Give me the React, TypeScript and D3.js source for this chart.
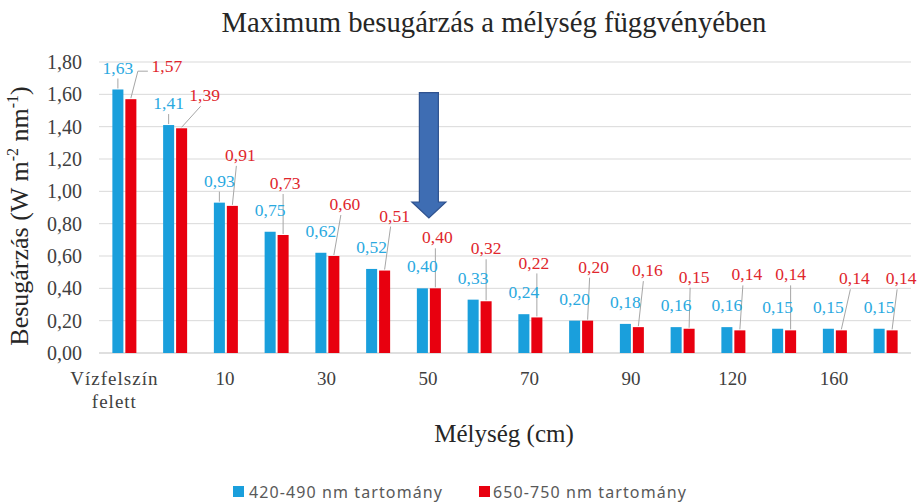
import React from 'react';
import * as d3 from 'd3';

// ---- data ----
const categories = ['Vízfelszín felett', '0', '10', '20', '30', '40', '50', '60', '70', '80', '90', '100', '120', '140', '160', '180'];
const blueValues = [1.63, 1.41, 0.93, 0.75, 0.62, 0.52, 0.40, 0.33, 0.24, 0.20, 0.18, 0.16, 0.16, 0.15, 0.15, 0.15];
const redValues = [1.57, 1.39, 0.91, 0.73, 0.60, 0.51, 0.40, 0.32, 0.22, 0.20, 0.16, 0.15, 0.14, 0.14, 0.14, 0.14];
const seriesNames = ['420-490 nm tartomány', '650-750 nm tartomány'];
const yTicks = [0, 0.2, 0.4, 0.6, 0.8, 1.0, 1.2, 1.4, 1.6, 1.8];

// ---- layout (label nudges, px) ----
const redLabelDx = [36, 23, 8, 2, 11, 10, 2, 0, -3, 6, 9, 5, 7, 0, 13, 9];
const redLabelDy = [-33, -33, -51, -52, -52, -55, -51, -53, -55, -54, -57, -52, -56, -56, -52, -52];

const W = 922, H = 503;
const M = { left: 99, right: 11, top: 62, bottom: 150 };
const BLUE = '#1a9fdc';
const RED = '#e8000f';
const BLUE_TXT = '#2aa9df';
const RED_TXT = '#e0262c';
const SERIF = '"Liberation Serif", "Times New Roman", serif';
const SANS = '"Noto Sans", "Open Sans", sans-serif';

const fmt = (v: number) => v.toFixed(2).replace('.', ',');

export default function App() {
  const x0 = d3.scaleBand<string>().domain(categories).range([M.left, W - M.right]).padding(0);
  const x1 = d3.scaleBand<string>().domain(['b', 'r']).range([-12, 12]).paddingInner(0.15);
  const y = d3.scaleLinear().domain([0, 1.8]).range([353, M.top]);

  const arrowCat = categories[6];
  const ax = (x0(arrowCat) as number) + x0.bandwidth() / 2;
  const aTop = y(1.61), aHead = y(0.934), aTip = y(0.835);
  const arrowPath = `M${ax - 9.5},${aTop} L${ax + 9.5},${aTop} L${ax + 9.5},${aHead} L${ax + 17},${aHead} L${ax},${aTip} L${ax - 17},${aHead} L${ax - 9.5},${aHead} Z`;

  return (
    <svg width={W} height={H} style={{ display: 'block', background: '#fff' }}>
      <style>{`body{margin:0}`}</style>
      <rect width={W} height={H} fill="#fff" />
      {/* title */}
      <text x={494} y={32} textAnchor="middle" fontFamily={SERIF} fontSize={28.7} fill="#262626">
        Maximum besugárzás a mélység függvényében
      </text>
      {/* gridlines */}
      {yTicks.map((t) => (
        <line key={t} x1={M.left} x2={W - M.right} y1={y(t)} y2={y(t)} stroke={t === 0 ? '#bfbfbf' : '#d9d9d9'} strokeWidth={1} />
      ))}
      {/* y tick labels */}
      {yTicks.map((t) => (
        <text key={'yt' + t} x={82} y={y(t)} dy="0.35em" textAnchor="end" fontFamily={SERIF} fontSize={20} fill="#404040">
          {fmt(t)}
        </text>
      ))}
      {/* y axis title */}
      <text transform={`translate(28,${216}) rotate(-90)`} textAnchor="middle" fontFamily={SERIF} fontSize={26} fill="#262626">
        Besugárzás (W m<tspan fontSize={16} dy={-10}>-2</tspan>
        <tspan dy={10}> nm</tspan>
        <tspan fontSize={16} dy={-10}>-1</tspan>
        <tspan dy={10}>)</tspan>
      </text>
      {/* bars */}
      {categories.map((c, i) => {
        const cx = (x0(c) as number) + x0.bandwidth() / 2;
        const bx = cx + (x1('b') as number);
        const rx = cx + (x1('r') as number);
        const bw = x1.bandwidth();
        return (
          <g key={c}>
            <rect x={bx} y={y(blueValues[i])} width={bw} height={y(0) - y(blueValues[i])} fill={BLUE} />
            <rect x={rx} y={y(redValues[i])} width={bw} height={y(0) - y(redValues[i])} fill={RED} />
          </g>
        );
      })}
      {/* data labels */}
      {categories.map((c, i) => {
        const cx = (x0(c) as number) + x0.bandwidth() / 2;
        const bw = x1.bandwidth();
        const bcx = cx + (x1('b') as number) + bw / 2;
        const rcx = cx + (x1('r') as number) + bw / 2;
        const bTop = y(blueValues[i]);
        const rTop = y(redValues[i]);
        const bLy = bTop - 22;
        const rLx = rcx + redLabelDx[i];
        const rLy = rTop + redLabelDy[i];
        let leader: string;
        if (rLx - rcx > 30) {
          const lx = rLx - 17;
          leader = `M${lx - 2},${rLy + 5} L${lx - 12},${rLy + 5} L${rcx},${rTop - 1}`;
        } else {
          const sx = rLx + Math.max(-4, Math.min(4, rcx - rLx));
          leader = `M${sx},${rLy + 11} L${rcx},${rTop - 1}`;
        }
        return (
          <g key={'l' + c}>
            {i < 3 && <line x1={bcx} x2={bcx} y1={bLy + 11} y2={bTop - 1} stroke="#a6a6a6" strokeWidth={1} />}
            <path d={leader} fill="none" stroke="#a6a6a6" strokeWidth={1} />
            <text x={bcx} y={bLy} dy="0.35em" textAnchor="middle" fontFamily={SERIF} fontSize={17.5} fill={BLUE_TXT}>
              {fmt(blueValues[i])}
            </text>
            <text x={rLx} y={rLy} dy="0.35em" textAnchor="middle" fontFamily={SERIF} fontSize={17.5} fill={RED_TXT}>
              {fmt(redValues[i])}
            </text>
          </g>
        );
      })}
      {/* x tick labels (every second category) */}
      {categories.map((c, i) => {
        if (i % 2 !== 0) return null;
        const cx = (x0(c) as number) + x0.bandwidth() / 2 - (i === 0 ? 0 : 1);
        const parts = c.split(' ');
        const tx = i === 0 ? cx - 10 : cx;
        return (
          <text key={'xt' + c} x={tx} y={385} textAnchor="middle" fontFamily={SERIF} fontSize={19} fill="#404040" letterSpacing={i === 0 ? 1 : 0}>
            {parts.map((p, k) => (
              <tspan key={k} x={tx} dy={k === 0 ? 0 : 23}>{p}</tspan>
            ))}
          </text>
        );
      })}
      {/* x axis title */}
      <text x={504} y={442} textAnchor="middle" fontFamily={SERIF} fontSize={25} fill="#262626">
        Mélység (cm)
      </text>
      {/* arrow annotation */}
      <path d={arrowPath} fill="#3e6db3" stroke="#2f528f" strokeWidth={1.2} />
      {/* legend */}
      <g>
        <rect x={233} y={486} width={11} height={11} fill={BLUE} />
        <text x={249} y={492} dy="0.35em" fontFamily={SANS} fontSize={16} letterSpacing={1.1} fill="#595959">{seriesNames[0]}</text>
        <rect x={479} y={486} width={11} height={11} fill={RED} />
        <text x={493} y={492} dy="0.35em" fontFamily={SANS} fontSize={16} letterSpacing={1.1} fill="#595959">{seriesNames[1]}</text>
      </g>
    </svg>
  );
}
